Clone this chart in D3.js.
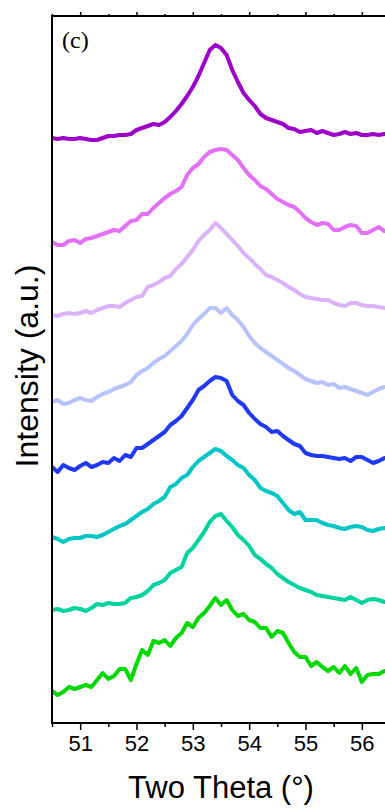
<!DOCTYPE html>
<html>
<head>
<meta charset="utf-8">
<script src="https://cdn.jsdelivr.net/npm/d3@7"></script>
<style>
  body { margin: 0; background: #fff; }
  svg { display: block; }
  .axis path, .axis line { stroke: #000; }
  .axis text { font-family: "Liberation Sans", Arial, sans-serif; fill: #000; }
</style>
</head>
<body>
<svg id="chart" width="385" height="811"></svg>
<script>
// sampling grid, two theta in degrees
var twoTheta = d3.range(0, 61).map(function(i) { return +(50.5 + i * 0.1).toFixed(1); });

// stacked intensities (a.u.), top curve first
var s1 = [585,584,585,584,584,585,584,583,583,585,587,587,588,588,589,593,595,597,599,598,
          601,606,612,619,627,636,647,660,673,678,675,668,653,641,630,623,617,609,605,603,
          601,599,595,594,591,592,593,590,592,590,588,589,591,589,590,588,588,589,588,589,589];
var s2 = [481,478,478,482,483,480,484,485,487,489,491,493,492,497,502,503,509,509,515,520,
          525,529,532,536,548,555,559,566,571,573,574,573,568,563,555,548,543,537,534,529,
          524,521,518,516,511,505,501,498,500,499,493,493,496,498,497,490,490,493,496,492,491];
var s3 = [408,407,409,410,409,410,412,410,413,415,417,417,416,420,423,426,427,436,438,441,
          445,447,454,459,466,473,482,488,493,500,495,489,483,477,470,465,459,454,448,446,
          443,440,436,433,429,426,425,424,423,423,420,418,417,420,420,418,417,417,416,415,416];
var s4 = [321,323,319,320,323,325,323,322,326,329,331,334,336,338,341,348,352,355,360,364,
          367,372,377,382,389,398,404,409,415,415,410,415,408,403,396,387,380,375,371,367,
          363,359,355,352,348,344,342,340,341,338,339,335,336,334,332,330,328,331,334,336,336];
var s5 = [256,251,258,255,253,257,260,256,258,261,260,265,262,268,266,275,275,279,283,287,
          291,298,302,307,315,323,333,337,342,346,345,342,328,322,318,310,304,299,296,291,
          292,287,283,279,277,270,268,267,267,266,265,264,265,262,266,266,263,260,262,265,264];
var s6 = [186,184,181,184,185,185,187,187,186,188,191,194,197,199,203,207,211,214,219,222,
          226,236,239,245,248,256,262,266,270,274,272,267,263,258,255,248,243,235,232,230,
          227,220,213,209,211,203,203,203,200,198,197,195,194,196,197,196,193,192,194,195,194];
var s7 = [113,114,112,113,115,114,112,115,119,118,120,119,119,120,125,126,128,132,138,140,
          143,150,153,156,170,175,183,191,201,207,209,202,196,188,183,177,168,164,159,155,
          149,145,141,138,135,133,131,128,127,126,125,124,123,126,123,120,123,124,123,121,121];
var s8 = [32,28,31,36,34,36,38,36,43,50,44,47,54,54,43,59,73,68,82,80,
          83,77,85,90,100,96,105,110,117,125,118,123,113,107,109,103,101,95,95,86,
          92,90,80,71,66,66,57,61,56,52,56,50,57,49,55,41,48,49,49,52,51];

var series = [s1, s2, s3, s4, s5, s6, s7, s8];
var colors = ["#9d00c8", "#e370f7", "#dbb3fb", "#b9c3fb", "#2039f7", "#00c6c6", "#00d39f", "#00d800"];

var majorTicks = [51, 52, 53, 54, 55, 56];
var minorTicks = [50.5, 51.5, 52.5, 53.5, 54.5, 55.5];

var svg = d3.select("#chart");

var x = d3.scaleLinear().domain([50.5, 56.5]).range([52, 390]);
var y = d3.scaleLinear().domain([0, 707]).range([723, 16]);

var line = d3.line()
  .x(function(d, i) { return x(twoTheta[i]); })
  .y(function(d) { return y(d); });

svg.selectAll(".xrd")
  .data(series)
  .enter().append("path")
  .attr("class", "xrd")
  .attr("fill", "none")
  .attr("stroke", function(d, i) { return colors[i]; })
  .attr("stroke-width", 4)
  .attr("stroke-linejoin", "round")
  .attr("d", line);

// bottom axis: labelled majors, short minors
svg.append("g")
  .attr("class", "axis")
  .attr("transform", "translate(0,723)")
  .call(d3.axisBottom(x).tickValues(majorTicks).tickSize(7).tickPadding(5).tickFormat(d3.format("d")))
  .call(function(g) {
    g.select(".domain").attr("stroke-width", 2).attr("d", "M52,0H385");
    g.selectAll(".tick line").attr("stroke-width", 1.5);
    g.selectAll(".tick text").attr("font-size", 22);
  });
svg.append("g")
  .attr("class", "axis")
  .attr("transform", "translate(0,723)")
  .call(d3.axisBottom(x).tickValues(minorTicks).tickSize(4).tickFormat(""))
  .call(function(g) {
    g.select(".domain").remove();
    g.selectAll(".tick line").attr("stroke-width", 1.5);
  });

// top frame
svg.append("g")
  .attr("class", "axis")
  .attr("transform", "translate(0,16)")
  .call(d3.axisTop(x).tickValues(majorTicks).tickSize(4).tickFormat(""))
  .call(function(g) {
    g.select(".domain").attr("stroke-width", 2).attr("d", "M52,0H385");
    g.selectAll(".tick line").attr("stroke-width", 1.5);
  });
svg.append("g")
  .attr("class", "axis")
  .attr("transform", "translate(0,16)")
  .call(d3.axisTop(x).tickValues(minorTicks).tickSize(2).tickFormat(""))
  .call(function(g) {
    g.select(".domain").remove();
    g.selectAll(".tick line").attr("stroke-width", 1.5);
  });

// left frame, no ticks
svg.append("line")
  .attr("x1", 52).attr("x2", 52)
  .attr("y1", 15).attr("y2", 724)
  .attr("stroke", "#000")
  .attr("stroke-width", 2);

svg.append("text")
  .attr("x", 221)
  .attr("y", 798)
  .attr("text-anchor", "middle")
  .attr("font-family", "Liberation Sans, Arial, sans-serif")
  .attr("font-size", 31)
  .text("Two Theta (°)");

svg.append("text")
  .attr("transform", "translate(38,366) rotate(-90)")
  .attr("text-anchor", "middle")
  .attr("font-family", "Liberation Sans, Arial, sans-serif")
  .attr("font-size", 32)
  .text("Intensity (a.u.)");

svg.append("text")
  .attr("x", 62)
  .attr("y", 48)
  .attr("font-family", "Liberation Serif, Times New Roman, serif")
  .attr("font-size", 24)
  .text("(c)");
</script>
</body>
</html>
